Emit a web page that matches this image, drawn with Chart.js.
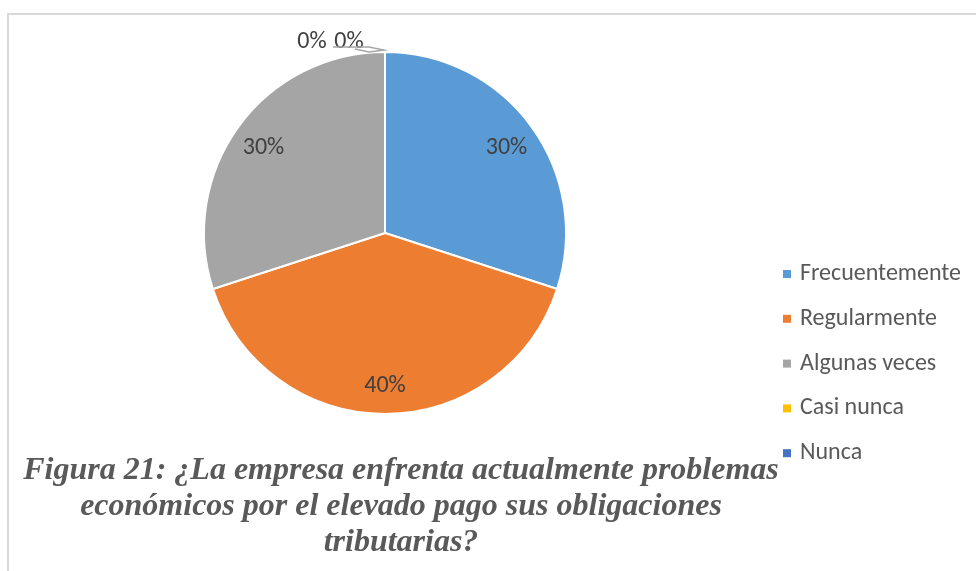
<!DOCTYPE html>
<html>
<head>
<meta charset="utf-8">
<script src="https://cdn.jsdelivr.net/npm/chart.js@4"></script>
<style>
  html, body { margin: 0; padding: 0; background: #fff; }
  #wrap { position: relative; width: 976px; height: 571px; overflow: hidden; }
  #frame {
    position: absolute; left: 7px; top: 13px; width: 1000px; height: 600px;
    border-top: 2px solid #d9d9d9; border-left: 2px solid #d9d9d9;
  }
  #chart { position: absolute; left: 0; top: 0; }
  #caption {
    position: absolute; left: 0; top: 450px; width: 802px;
    text-align: center; font-family: "Liberation Serif", "Times New Roman", serif;
    font-style: italic; font-weight: bold; font-size: 32px; line-height: 36px;
    color: #595959; white-space: nowrap;
  }
</style>
</head>
<body>
<div id="wrap">
  <div id="frame"></div>
  <canvas id="chart" width="976" height="571"></canvas>
  <div id="caption">Figura 21: ¿La empresa enfrenta actualmente problemas<br>económicos por el elevado pago sus obligaciones<br>tributarias?</div>
</div>
<script>
// ===============================
// DATA
// ===============================

const categories = ["Frecuentemente", "Regularmente", "Algunas veces", "Casi nunca", "Nunca"];
const percentages = [30, 40, 30, 0, 0];
const sliceColors = ["#5B9BD5", "#ED7D31", "#A5A5A5", "#FFC000", "#4472C4"];

const labelFont = '24px Carlito, Lato, "Liberation Sans", sans-serif';

// ===============================
// PLUGINS
// ===============================

const dataLabels = {
  id: "dataLabels",
  afterDatasetsDraw(chart) {
    const ctx = chart.ctx;
    const arcs = chart.getDatasetMeta(0).data;
    ctx.save();
    ctx.font = labelFont;
    ctx.fillStyle = "#404040";
    ctx.textAlign = "center";
    ctx.textBaseline = "middle";

    let zeroIndex = 0;
    arcs.forEach((arc, i) => {
      const v = percentages[i];
      if (v > 0) {
        const mid = (arc.startAngle + arc.endAngle) / 2;
        const r = arc.outerRadius * 0.83;
        ctx.fillText(v + "%", arc.x + Math.cos(mid) * r, arc.y + Math.sin(mid) * r + 3);
      } else {
        // zero slices sit at the top: labels go to the left with a leader line
        const topX = arc.x + Math.cos(arc.startAngle) * arc.outerRadius;
        const topY = arc.y + Math.sin(arc.startAngle) * arc.outerRadius;
        ctx.fillText(v + "%", topX - 73 + zeroIndex * 37, topY - 10);
        zeroIndex++;
      }
    });

    const first = arcs[3];
    const tx = first.x;
    const ty = first.y - first.outerRadius;
    ctx.strokeStyle = "#a6a6a6";
    ctx.lineWidth = 1.5;
    ctx.beginPath();
    ctx.moveTo(tx - 52, ty - 5);
    ctx.lineTo(tx - 16, ty - 5);
    ctx.lineTo(tx - 1, ty - 2);
    ctx.lineTo(tx - 16, ty);
    ctx.lineTo(tx - 30, ty - 3);
    ctx.stroke();
    ctx.restore();
  }
};

const sideLegend = {
  id: "sideLegend",
  afterDraw(chart) {
    const ctx = chart.ctx;
    ctx.save();
    ctx.font = labelFont;
    ctx.textBaseline = "middle";
    categories.forEach((name, i) => {
      const y = 274 + i * 44.8;
      ctx.fillStyle = sliceColors[i];
      ctx.fillRect(783, y - 4, 8, 8);
      ctx.fillStyle = "#595959";
      ctx.fillText(name, 800, y);
    });
    ctx.restore();
  }
};

// ===============================
// CHART
// ===============================

new Chart(document.getElementById("chart"), {
  type: "pie",
  data: {
    labels: categories,
    datasets: [{
      data: percentages,
      backgroundColor: sliceColors,
      borderColor: "#ffffff",
      borderWidth: 2
    }]
  },
  options: {
    responsive: false,
    animation: false,
    layout: { padding: { left: 203, right: 409, top: 51, bottom: 156 } },
    plugins: {
      legend: { display: false },
      tooltip: { enabled: false }
    }
  },
  plugins: [dataLabels, sideLegend]
});
</script>
</body>
</html>
